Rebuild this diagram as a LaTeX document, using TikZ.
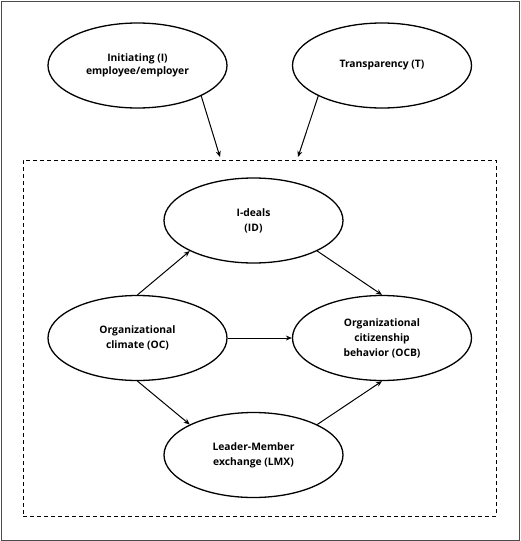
\documentclass[tikz,border=0pt]{standalone}
\usepackage{fontspec}
\setmainfont{Open Sans}
\usetikzlibrary{arrows.meta,shapes.geometric}
\begin{document}
\begin{tikzpicture}[x=1pt,y=-1pt,
  var/.style={ellipse, draw, line width=1.3pt, minimum width=179pt, minimum height=85pt, inner sep=0pt,
    font=\bfseries\fontsize{10.3}{15}\selectfont, align=center},
  tight/.style={font=\bfseries\fontsize{10.3}{13}\selectfont},
  arr/.style={-{Stealth[length=6pt,width=5pt]}, line width=1pt},
  framebox/.style={draw=black!70, line width=1pt},
  groupbox/.style={draw, line width=0.8pt, dash pattern=on 4pt off 3pt, minimum width=473pt, minimum height=356pt, inner sep=0pt}]
\useasboundingbox (0,0) rectangle (520,541);
\draw[framebox] (1,1) rectangle (519,540);
\node[groupbox] (box) at (259.5,338) {};
\node[var, tight] (I) at (137.5,65.5) {Initiating (I)\\employee/employer};
\node[var] (T) at (382,65.5) {Transparency (T)};
\node[var] (ID) at (253.5,220.5) {I-deals\\(ID)};
\node[var] (OC) at (137.5,338) {Organizational\\climate (OC)};
\node[var] (OCB) at (382,338) {Organizational\\citizenship\\behavior (OCB)};
\node[var] (LMX) at (253.5,455) {Leader-Member\\exchange (LMX)};
\coordinate (iend) at (220,157);
\coordinate (tend) at (298,157);
\draw[arr] (I.south east) -- (iend);
\draw[arr] (T.south west) -- (tend);
\draw[arr] (OC.north) -- (ID.south west);
\draw[arr] (ID.south east) -- (OCB.north);
\draw[arr] (OC.east) -- (OCB.west);
\draw[arr] (OC.south) -- (LMX.north west);
\draw[arr] (LMX.north east) -- (OCB.south);
\end{tikzpicture}
\end{document}
